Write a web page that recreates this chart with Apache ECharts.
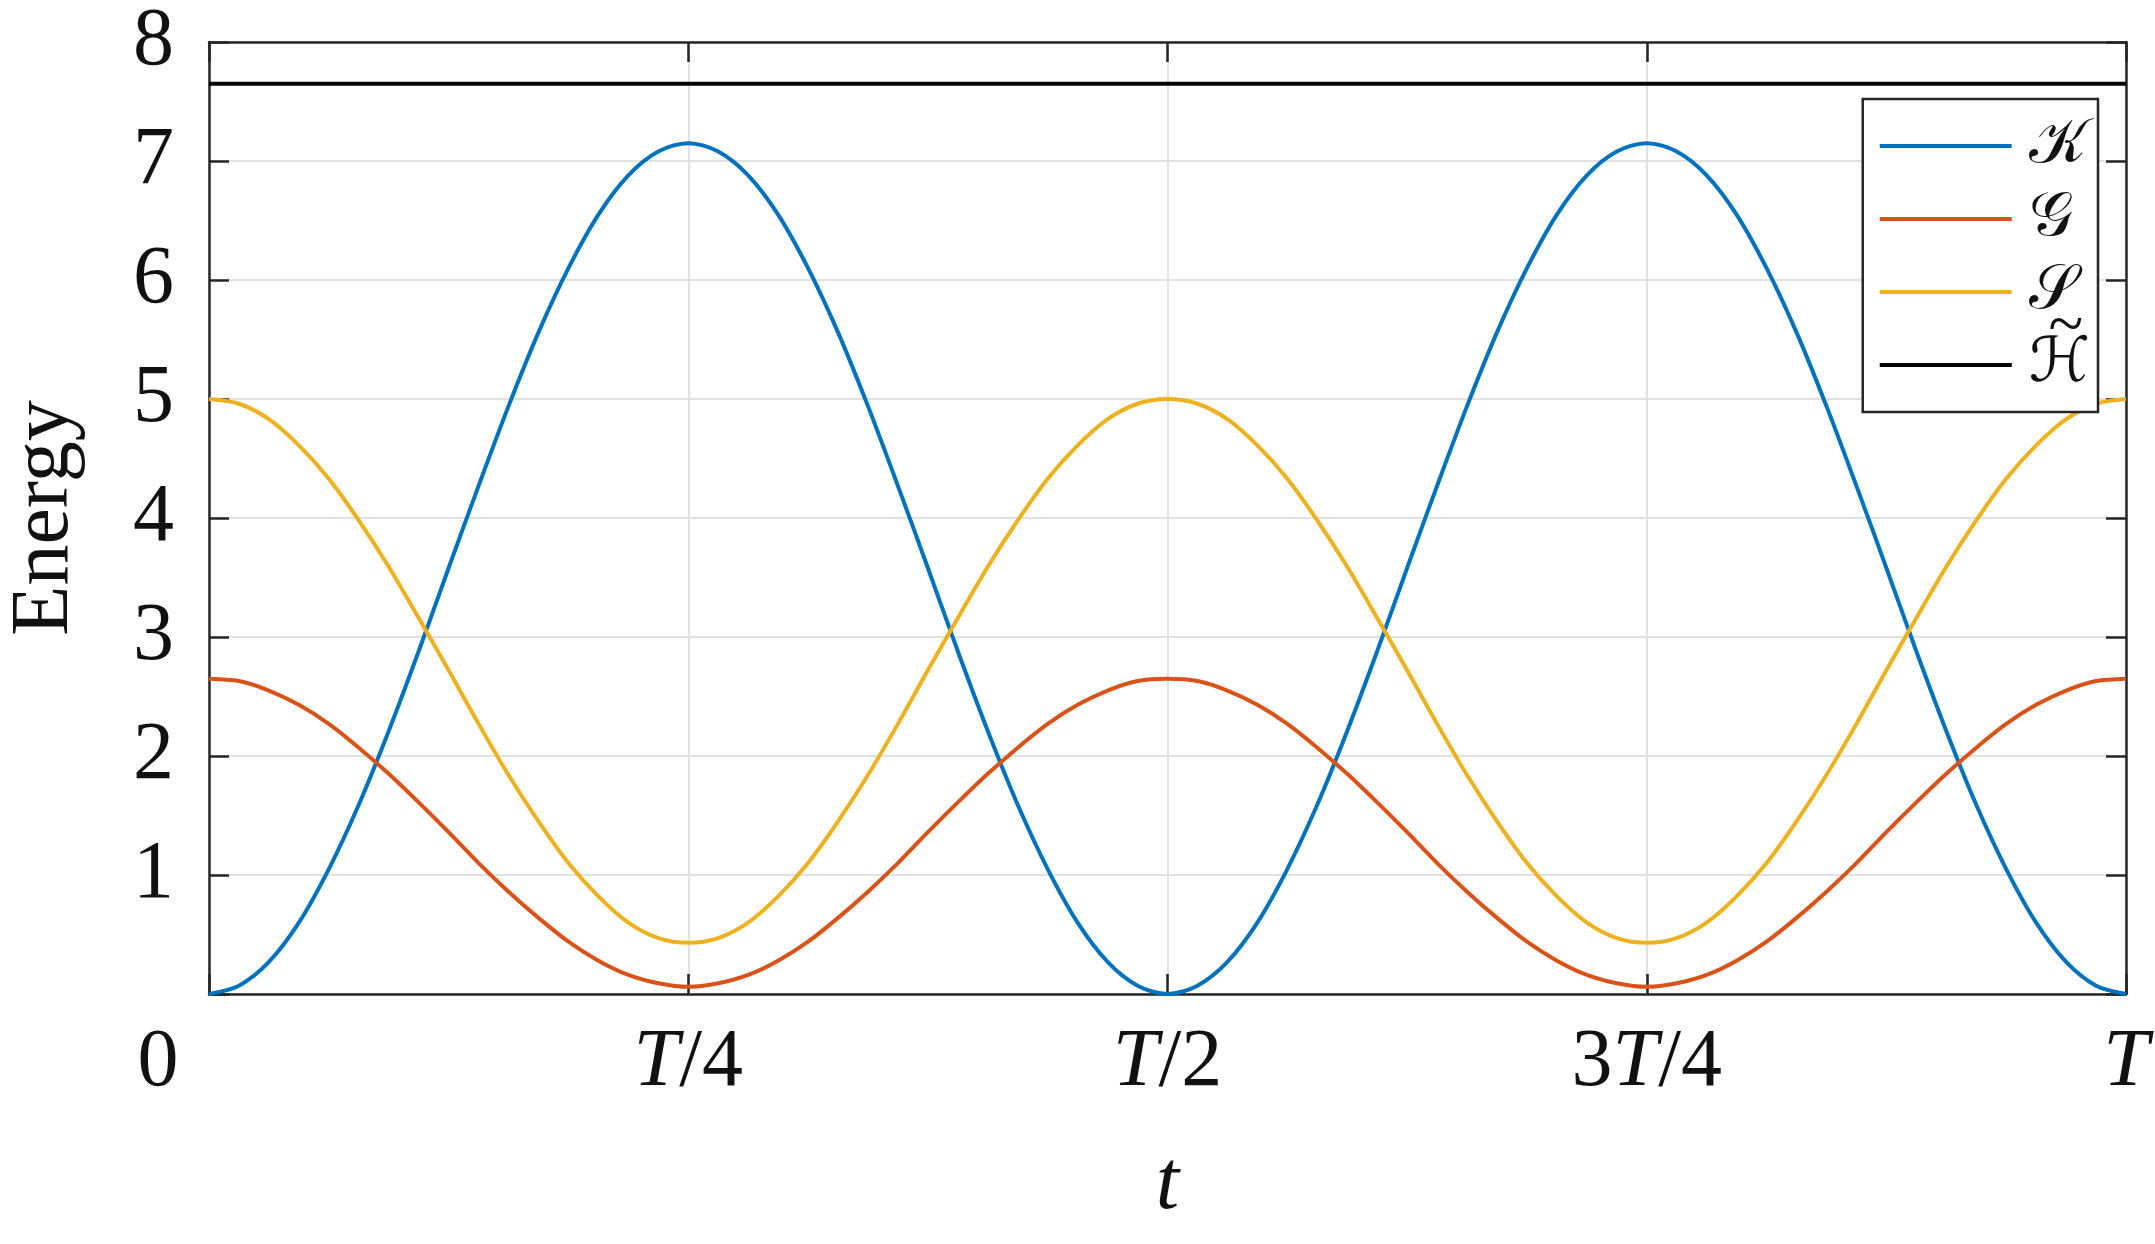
<!DOCTYPE html>
<html>
<head>
<meta charset="utf-8">
<title>Energy</title>
<script src="https://cdn.jsdelivr.net/npm/echarts@6/dist/echarts.min.js"></script>
<style>
  html, body { margin: 0; padding: 0; background: #fff; }
  #chart { width: 2155px; height: 1244px; }
</style>
</head>
<body>
<div id="chart"></div>
<script>
// 时间采样点 (以周期 T 为单位, 步长 T/64)
var tSteps = [0, 0.015625, 0.03125, 0.046875, 0.0625, 0.078125, 0.09375, 0.109375, 0.125,
    0.140625, 0.15625, 0.171875, 0.1875, 0.203125, 0.21875, 0.234375, 0.25,
    0.265625, 0.28125, 0.296875, 0.3125, 0.328125, 0.34375, 0.359375, 0.375,
    0.390625, 0.40625, 0.421875, 0.4375, 0.453125, 0.46875, 0.484375, 0.5,
    0.515625, 0.53125, 0.546875, 0.5625, 0.578125, 0.59375, 0.609375, 0.625,
    0.640625, 0.65625, 0.671875, 0.6875, 0.703125, 0.71875, 0.734375, 0.75,
    0.765625, 0.78125, 0.796875, 0.8125, 0.828125, 0.84375, 0.859375, 0.875,
    0.890625, 0.90625, 0.921875, 0.9375, 0.953125, 0.96875, 0.984375, 1];

// 各能量曲线
var kinetic = [0, 0.07, 0.27, 0.60, 1.05, 1.59, 2.21, 2.88, 3.58,
    4.27, 4.94, 5.56, 6.10, 6.55, 6.88, 7.08, 7.15,
    7.08, 6.88, 6.55, 6.10, 5.56, 4.94, 4.27, 3.58,
    2.88, 2.21, 1.59, 1.05, 0.60, 0.27, 0.07, 0,
    0.07, 0.27, 0.60, 1.05, 1.59, 2.21, 2.88, 3.58,
    4.27, 4.94, 5.56, 6.10, 6.55, 6.88, 7.08, 7.15,
    7.08, 6.88, 6.55, 6.10, 5.56, 4.94, 4.27, 3.58,
    2.88, 2.21, 1.59, 1.05, 0.60, 0.27, 0.07, 0];
var gravity = [2.65, 2.63, 2.55, 2.43, 2.27, 2.07, 1.85, 1.61, 1.36,
    1.10, 0.86, 0.64, 0.44, 0.28, 0.16, 0.09, 0.06,
    0.09, 0.16, 0.28, 0.44, 0.64, 0.86, 1.10, 1.36,
    1.61, 1.85, 2.07, 2.27, 2.43, 2.55, 2.63, 2.65,
    2.63, 2.55, 2.43, 2.27, 2.07, 1.85, 1.61, 1.36,
    1.10, 0.86, 0.64, 0.44, 0.28, 0.16, 0.09, 0.06,
    0.09, 0.16, 0.28, 0.44, 0.64, 0.86, 1.10, 1.36,
    1.61, 1.85, 2.07, 2.27, 2.43, 2.55, 2.63, 2.65];
var spring = [5.00, 4.96, 4.83, 4.61, 4.33, 3.98, 3.59, 3.16, 2.72,
    2.27, 1.84, 1.45, 1.10, 0.82, 0.60, 0.47, 0.43,
    0.47, 0.60, 0.82, 1.10, 1.45, 1.84, 2.27, 2.72,
    3.16, 3.59, 3.98, 4.33, 4.61, 4.83, 4.96, 5.00,
    4.96, 4.83, 4.61, 4.33, 3.98, 3.59, 3.16, 2.72,
    2.27, 1.84, 1.45, 1.10, 0.82, 0.60, 0.47, 0.43,
    0.47, 0.60, 0.82, 1.10, 1.45, 1.84, 2.27, 2.72,
    3.16, 3.59, 3.98, 4.33, 4.61, 4.83, 4.96, 5.00];
var hamiltonian = [[0, 7.65], [1, 7.65]];

// 图例名称与刻度文字 (H 上的波浪号单独绘制)
var seriesNames = ['\uD835\uDCA6', '\uD835\uDCA2', '\uD835\uDCAE', '\u210B'];
var seriesColors = ['#0072BD', '#D95319', '#EDB120', '#000000'];
var xTickLabels = ['{z|0}', '{i|T}/4', '{i|T}/2', '3{i|T}/4', '{i|T}'];

var serif = 'Liberation Serif';
var axisColor = '#262626';

function pair(values) {
    return tSteps.map(function (t, i) { return [t, values[i]]; });
}

// 边框轴: 不贴零位, 刻度朝内
function frameLine() {
    return { show: true, onZero: false, lineStyle: { color: axisColor, width: 2.5 } };
}
function frameTick() {
    return { show: true, inside: true, length: 20, lineStyle: { color: axisColor, width: 2.5 } };
}

var myChart = echarts.init(document.getElementById('chart'));

var option = {
    animation: false,
    backgroundColor: '#fff',
    color: seriesColors,
    textStyle: { fontFamily: serif, color: '#111' },
    grid: { left: 209, right: 29, top: 42, bottom: 250, containLabel: false, outerBoundsMode: 'none' },
    legend: {
        right: 57,
        top: 99,
        orient: 'vertical',
        icon: 'rect',
        itemWidth: 132,
        itemHeight: 4,
        itemGap: 11,
        padding: [16, 8, 16, 17],
        backgroundColor: '#fff',
        borderColor: axisColor,
        borderWidth: 2.5,
        borderRadius: 0,
        data: seriesNames,
        textStyle: {
            fontFamily: "'DejaVu Sans', 'DejaVu Serif', 'Noto Sans', serif",
            fontSize: 62,
            lineHeight: 62,
            color: '#111',
            padding: [0, 0, 0, 12]
        }
    },
    graphic: [{
        type: 'text',
        right: 72,
        top: 296,
        z: 100,
        style: { text: '~', fontFamily: serif, fontSize: 64, fill: '#111' }
    }],
    xAxis: [{
        type: 'value',
        min: 0,
        max: 1,
        interval: 0.25,
        name: 't',
        nameLocation: 'middle',
        nameGap: 150,
        nameTextStyle: { fontFamily: serif, fontStyle: 'italic', fontSize: 84, color: '#111' },
        axisLine: frameLine(),
        axisTick: frameTick(),
        splitLine: { show: true, lineStyle: { color: '#e1e1e1', width: 2 } },
        axisLabel: {
            margin: 28,
            showMinLabel: true,
            showMaxLabel: true,
            fontFamily: serif,
            fontSize: 82,
            color: '#111',
            formatter: function (value) {
                return xTickLabels[Math.round(value * 4)];
            },
            rich: {
                i: { fontFamily: serif, fontStyle: 'italic', fontSize: 82, color: '#111' },
                z: { fontFamily: serif, fontSize: 82, color: '#111', padding: [0, 102, 0, 0] }
            }
        }
    }, {
        type: 'value',
        position: 'top',
        min: 0,
        max: 1,
        interval: 0.25,
        axisLine: frameLine(),
        axisTick: frameTick(),
        axisLabel: { show: false },
        splitLine: { show: false }
    }],
    yAxis: [{
        type: 'value',
        min: 0,
        max: 8,
        interval: 1,
        name: 'Energy',
        nameLocation: 'middle',
        nameGap: 123,
        nameTextStyle: { fontFamily: serif, fontSize: 82, color: '#111' },
        axisLine: frameLine(),
        axisTick: frameTick(),
        splitLine: { show: true, lineStyle: { color: '#e1e1e1', width: 2 } },
        axisLabel: {
            margin: 35,
            fontFamily: serif,
            fontSize: 82,
            color: '#111',
            formatter: function (value) {
                return value === 0 ? '' : String(value);
            }
        }
    }, {
        type: 'value',
        position: 'right',
        min: 0,
        max: 8,
        interval: 1,
        axisLine: frameLine(),
        axisTick: frameTick(),
        axisLabel: { show: false },
        splitLine: { show: false }
    }],
    series: [
        { name: seriesNames[0], data: pair(kinetic) },
        { name: seriesNames[1], data: pair(gravity) },
        { name: seriesNames[2], data: pair(spring) },
        { name: seriesNames[3], data: hamiltonian }
    ].map(function (s) {
        return {
            name: s.name,
            type: 'line',
            data: s.data,
            smooth: 0.3,
            showSymbol: false,
            clip: false,
            lineStyle: { width: 4 }
        };
    })
};

myChart.setOption(option);
</script>
</body>
</html>
